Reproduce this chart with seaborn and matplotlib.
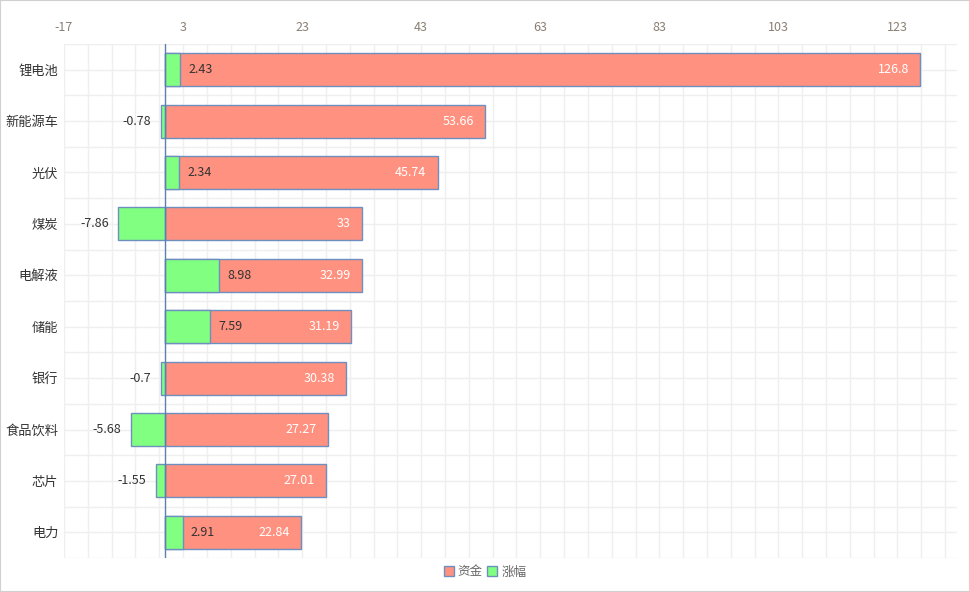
import numpy as np
import pandas as pd
import matplotlib
matplotlib.use("Agg")
import matplotlib.pyplot as plt
import seaborn as sns
from matplotlib.patches import Patch, Rectangle

# data
categories = ["锂电池", "新能源车", "光伏", "煤炭", "电解液", "储能", "银行", "食品饮料", "芯片", "电力"]
funds = [126.8, 53.66, 45.74, 33, 32.99, 31.19, 30.38, 27.27, 27.01, 22.84]
changes = [2.43, -0.78, 2.34, -7.86, 8.98, 7.59, -0.7, -5.68, -1.55, 2.91]

df = pd.DataFrame({"板块": categories, "资金": funds, "涨幅": changes})

sns.set_style("white")
plt.rcParams["font.family"] = ["Noto Sans CJK SC", "DejaVu Sans"]
plt.rcParams["axes.unicode_minus"] = False

red = "#FF9180"
green = "#80FF80"
edge = "#6F8FBF"

fig = plt.figure(figsize=(9.7, 5.92), dpi=100)
ax = fig.add_axes([64 / 970, 1 - 558 / 592, (957 - 64) / 970, (558 - 44) / 592])

sns.barplot(data=df, x="资金", y="板块", order=categories, color=red, width=0.64,
            edgecolor=edge, linewidth=1, saturation=1, ax=ax, zorder=2)
sns.barplot(data=df, x="涨幅", y="板块", order=categories, color=green, width=0.64,
            edgecolor=edge, linewidth=1, saturation=1, ax=ax, zorder=3)

ax.set_xlim(-17, 133)
ax.set_ylim(9.5, -0.5)
ax.xaxis.tick_top()
ax.set_xticks(np.arange(-17, 124, 20))
ax.set_xticks(np.arange(-17, 134, 4), minor=True)
ax.set_yticks(np.arange(-0.5, 10, 1), minor=True)
ax.grid(True, which="both", color="#efefef", linewidth=1, zorder=0)
ax.set_axisbelow(True)
ax.tick_params(axis="both", which="both", length=0)
ax.tick_params(axis="x", labelsize=9, labelcolor="#8a7f72", pad=7)
ax.tick_params(axis="y", labelsize=9.5, labelcolor="#333333", pad=4)
ax.set_xlabel("")
ax.set_ylabel("")
for s in ax.spines.values():
    s.set_visible(False)
ax.axvline(0, color="#5B7FB0", linewidth=1, zorder=4)

# value labels
for i, (f, c) in enumerate(zip(funds, changes)):
    ax.annotate(f"{f:g}", (f, i), xytext=(-8, 0), textcoords="offset points",
                ha="right", va="center", color="white", fontsize=9, zorder=5)
    if c >= 0:
        ax.annotate(f"{c:g}", (c, i), xytext=(6, 0), textcoords="offset points",
                    ha="left", va="center", color="#333333", fontsize=9, zorder=5)
    else:
        ax.annotate(f"{c:g}", (c, i), xytext=(-7, 0), textcoords="offset points",
                    ha="right", va="center", color="#333333", fontsize=9, zorder=5)

handles = [Patch(facecolor=red, edgecolor=edge, label="资金"),
           Patch(facecolor=green, edgecolor=edge, label="涨幅")]
fig.legend(handles=handles, loc="center", bbox_to_anchor=(485 / 970, 1 - 572 / 592),
           ncol=2, frameon=False, fontsize=9, labelcolor="#666666",
           handlelength=0.8, handleheight=0.8, handletextpad=0.3, columnspacing=0.4)

fig.add_artist(Rectangle((0, 0), 1, 1, transform=fig.transFigure, fill=False,
                         edgecolor="#d0d0d0", linewidth=1.5))

fig.savefig("out.png", dpi=100)
